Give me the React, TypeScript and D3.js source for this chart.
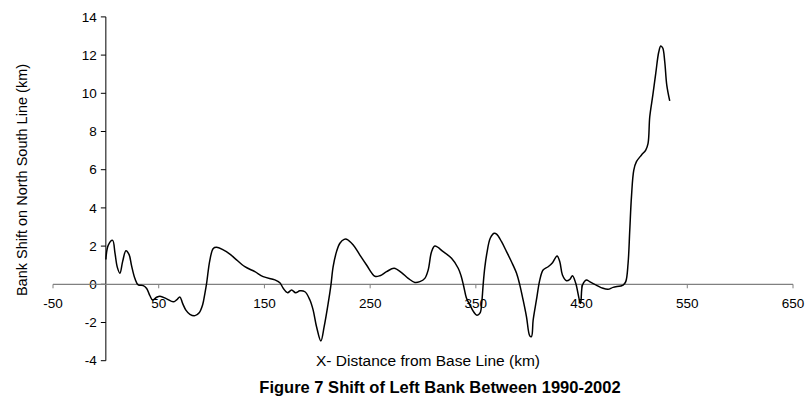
import React from "react";
import * as d3 from "d3";

const distanceKm: number[] = [
  0, 2.3, 6.4, 8.6, 10.8, 13.3, 15.9, 19, 22, 24.4, 27.5, 30.6, 35.4, 38.6, 41.7, 44.2, 48, 51.2,
  57.5, 63.7, 66.9, 70, 72.6, 75.7, 79.5, 84.3, 88.3, 91.5, 93.7, 95.3, 98.4, 101.6, 104.7, 111,
  117.3, 122, 131.5, 141, 148.8, 159.9, 164.6, 167.8, 171.9, 175.7, 179.5, 183.5, 188.3, 193, 196.1,
  199.3, 203.4, 206.5, 210.3, 212.9, 215, 218.2, 221.4, 225.4, 227.7, 234, 240.3, 246.6, 254.5,
  259.2, 265.5, 272.7, 279.7, 286, 292.3, 297, 301.7, 304.9, 308.1, 311.2, 319.1, 327, 333.3, 336,
  338.5, 341, 344.5, 348, 351, 354, 355.5, 357, 358.5, 360.4, 363.6, 367.3, 369.6, 374.3, 379,
  383.7, 388.5, 391.6, 394.7, 397.9, 401, 402.6, 404.2, 407.3, 410.5, 413.6, 418.4, 422.5, 426.8,
  429.4, 431.9, 435.7, 438.9, 441.4, 444.5, 449, 450.9, 454.6, 457.6, 463.9, 470.3, 475, 479.8,
  489.3, 491.8, 494, 495.6, 497.2, 499.4, 501.9, 506.7, 510.7, 512.9, 514.5, 517.4, 520.2, 523,
  524.9, 526.8, 528.7, 530.6, 533.4,
];

const bankShiftKm: number[] = [
  1.3, 2.05, 2.3, 1.65, 0.9, 0.58, 1.2, 1.76, 1.55, 0.95, 0.3, -0.03, -0.07, -0.22, -0.6, -0.82,
  -0.68, -0.62, -0.76, -0.92, -0.82, -0.66, -1.0, -1.35, -1.57, -1.64, -1.49, -1.08, -0.47, 0.05,
  1.27, 1.88, 1.94, 1.8, 1.58, 1.36, 0.92, 0.66, 0.4, 0.23, 0.08, -0.21, -0.44, -0.3, -0.44, -0.34,
  -0.39, -0.82, -1.35, -2.22, -2.97, -2.22, -1.0, -0.04, 0.92, 1.71, 2.15, 2.35, 2.36, 2.06, 1.53,
  1.01, 0.42, 0.45, 0.66, 0.84, 0.61, 0.31, 0.1, 0.14, 0.31, 0.75, 1.71, 2.0, 1.71, 1.36, 0.84,
  0.45, -0.1, -0.7, -1.1, -1.45, -1.62, -1.5, -1.0, 0.05, 0.9, 1.62, 2.41, 2.67, 2.63, 2.23, 1.71,
  1.18, 0.58, -0.04, -0.82, -1.7, -2.7, -2.74, -1.87, -0.82, 0.23, 0.75, 0.92, 1.13, 1.48, 1.18,
  0.49, 0.19, 0.26, 0.45, 0.05, -1.0, -0.04, 0.23, 0.14, -0.04, -0.21, -0.26, -0.16, -0.04, 0.14,
  1.1, 2.84, 4.59, 5.98, 6.42, 6.77, 7.03, 7.38, 8.77, 9.9, 11.06, 12.16, 12.48, 12.37, 11.64,
  10.43, 9.6,
];

const xTicks: number[] = [-50, 50, 150, 250, 350, 450, 550, 650];
const yTicks: number[] = [-4, -2, 0, 2, 4, 6, 8, 10, 12, 14];

const xTitle = "X- Distance from Base Line (km)";
const yTitle = "Bank Shift on North South Line (km)";
const caption = "Figure 7 Shift of Left Bank Between 1990-2002";

export default function App() {
  const W = 810;
  const H = 406;
  const x = d3.scaleLinear().domain([-50, 650]).range([53, 793]);
  const y = d3.scaleLinear().domain([-4, 14]).range([360.7, 16.9]);
  const pts: [number, number][] = distanceKm.map((d, i) => [d, bankShiftKm[i]]);
  const line = d3
    .line<[number, number]>()
    .x((d) => x(d[0]))
    .y((d) => y(d[1]))
    .curve(d3.curveCatmullRom.alpha(0.5));
  const font = "'Liberation Sans', Arial, sans-serif";
  const x0 = x(0);
  const y0 = y(0);
  return (
    <svg
      width={W}
      height={H}
      style={{ position: "absolute", left: 0, top: 0, background: "#fff" }}
      fontFamily={font}
    >
      <rect x={0} y={0} width={W} height={H} fill="#fff" />
      {/* y axis */}
      <line x1={x0} x2={x0} y1={y(14)} y2={y(-4)} stroke="#000" strokeWidth={1} />
      {yTicks.map((t) => (
        <g key={"y" + t}>
          <line x1={x0 - 5} x2={x0} y1={y(t)} y2={y(t)} stroke="#000" strokeWidth={1} />
          <text x={x0 - 9} y={y(t)} dy="0.35em" textAnchor="end" fontSize={13.5} fill="#000">
            {t}
          </text>
        </g>
      ))}
      {/* x axis */}
      <line x1={x(-50)} x2={x(650)} y1={y0} y2={y0} stroke="#808080" strokeWidth={1.2} />
      {xTicks.map((t) => (
        <g key={"x" + t}>
          <line x1={x(t)} x2={x(t)} y1={y0} y2={y0 + 4} stroke="#808080" strokeWidth={1} />
          <text x={x(t)} y={y0 + 24} textAnchor="middle" fontSize={13.5} fill="#000">
            {t}
          </text>
        </g>
      ))}
      <path d={line(pts) || ""} fill="none" stroke="#000" strokeWidth={1.5} strokeLinejoin="round" />
      <text
        transform={`translate(27,180) rotate(-90)`}
        textAnchor="middle"
        fontSize={14.5}
        fill="#000"
      >
        {yTitle}
      </text>
      <text x={428} y={366} textAnchor="middle" fontSize={15.5} fill="#000">
        {xTitle}
      </text>
      <text x={440} y={393} textAnchor="middle" fontSize={16.5} fontWeight="bold" fill="#000">
        {caption}
      </text>
    </svg>
  );
}
